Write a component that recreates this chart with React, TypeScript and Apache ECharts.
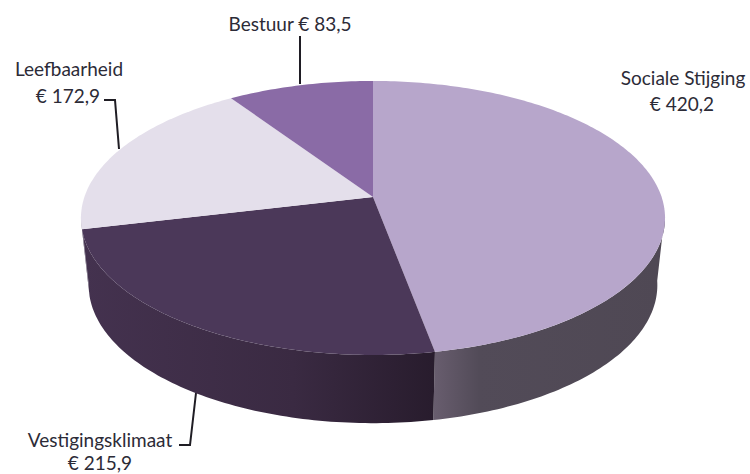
import React, { useEffect, useRef } from "react";
import * as echarts from "echarts";

const categories = ["Sociale Stijging", "Vestigingsklimaat", "Leefbaarheid", "Bestuur"];
const amounts = [420.2, 215.9, 172.9, 83.5];
const topColors = ["#b7a6cb", "#4b3859", "#e4dfeb", "#8a6ba6"];

// Perspective projection of the pie's top and bottom discs
const TOP = { cx: 373, cy: 197, a: 288.6, b: 133.8, k: 0.153 };
const BOTTOM = { cx: 373, cy: 264, a: 281, b: 134.8, k: 0.153 };
const total = amounts.reduce((s, v) => s + v, 0);

const rad = (d: number) => (d * Math.PI) / 180;
function project(disc: typeof TOP, deg: number): [number, number] {
  const u = Math.sin(rad(deg));
  const v = Math.cos(rad(deg));
  const w = 1 + disc.k * v;
  return [disc.cx + (disc.a * u) / w, disc.cy - (disc.b * v) / w];
}
function rim(disc: typeof TOP, from: number, to: number) {
  const pts: [number, number][] = [];
  const n = Math.max(2, Math.ceil(Math.abs(to - from)));
  for (let i = 0; i <= n; i++) pts.push(project(disc, from + ((to - from) * i) / n));
  return pts;
}
function sliceAngles(index: number): [number, number] {
  const before = amounts.slice(0, index).reduce((s, v) => s + v, 0);
  return [(before / total) * 360, ((before + amounts[index]) / total) * 360];
}

const sideFills: any[] = [
  {
    type: "linear", global: true, x: 434, y: 0, x2: 660, y2: 0,
    colorStops: [
      { offset: 0, color: "#685d6e" },
      { offset: 0.2, color: "#524b58" },
      { offset: 1, color: "#4f4854" },
    ],
  },
  {
    type: "linear", global: true, x: 83, y: 0, x2: 434, y2: 0,
    colorStops: [
      { offset: 0, color: "#44324f" },
      { offset: 0.6, color: "#3a2a42" },
      { offset: 1, color: "#281c2d" },
    ],
  },
  "#a9a4b0",
  "#5f4a74",
];

const VISIBLE_FROM = 97;
const VISIBLE_TO = 262;

function App() {
  const ref = useRef<HTMLDivElement>(null);
  useEffect(() => {
    const chart = echarts.init(ref.current!, undefined, { renderer: "svg" });
    const rows = amounts.map((v) => [v]);

    const label = (text: string, x: number, y: number) => ({
      type: "text",
      x,
      y,
      silent: true,
      style: {
        text,
        fill: "#2c2b37",
        font: '19px Lato, "Noto Sans", sans-serif',
        textAlign: "center",
        textVerticalAlign: "middle",
      },
    });
    const euro = (v: number) => "€ " + v.toFixed(1).replace(".", ",");
    const leader = (points: number[][]) => ({
      type: "polyline",
      silent: true,
      shape: { points },
      style: { stroke: "#1f1d24", lineWidth: 2, fill: "none" },
    });

    chart.setOption({
      animation: false,
      backgroundColor: "#ffffff",
      series: [
        {
          type: "custom",
          coordinateSystem: "none",
          silent: true,
          z: 1,
          data: rows,
          renderItem: (params: any) => {
            const [s, e] = sliceAngles(params.dataIndex);
            const from = Math.max(s, VISIBLE_FROM);
            const to = Math.min(e, VISIBLE_TO);
            if (to <= from) return { type: "group", children: [] };
            const points = [...rim(TOP, from, to), ...rim(BOTTOM, to, from)];
            return {
              type: "polygon",
              shape: { points },
              style: { fill: sideFills[params.dataIndex] },
            };
          },
        },
        {
          type: "custom",
          coordinateSystem: "none",
          silent: true,
          z: 2,
          data: rows,
          renderItem: (params: any) => {
            const [s, e] = sliceAngles(params.dataIndex);
            const points = [[TOP.cx, TOP.cy], ...rim(TOP, s, e)];
            return {
              type: "polygon",
              shape: { points },
              style: { fill: topColors[params.dataIndex] },
            };
          },
        },
      ],
      graphic: [
        leader([[300, 36], [300, 84]]),
        leader([[104, 100], [115, 100], [119, 149]]),
        leader([[179, 445], [190, 445], [196, 393]]),
        label(`${categories[3]} ${euro(amounts[3])}`, 290, 23),
        label(categories[2], 69, 68),
        label(euro(amounts[2]), 68, 95),
        label(categories[0], 683, 77),
        label(euro(amounts[0]), 682, 103),
        label(categories[1], 100, 439),
        label(euro(amounts[1]), 100, 462),
      ],
    });
    return () => chart.dispose();
  }, []);
  return (
    <div
      ref={ref}
      style={{ position: "absolute", left: 0, top: 0, width: 750, height: 474 }}
    />
  );
}

export default App;
